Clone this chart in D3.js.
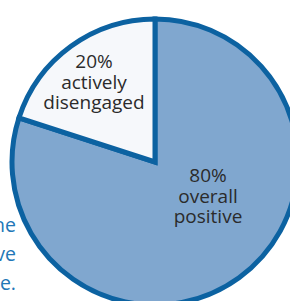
<!DOCTYPE html>
<html><head><meta charset="utf-8">
<script src="https://cdn.jsdelivr.net/npm/d3@7"></script>
<style>html,body{margin:0;padding:0;background:#fff;overflow:hidden}</style>
</head><body>
<svg id="c" width="290" height="301"></svg>
<script>
const categories = ["overall positive", "actively disengaged"];
const values = [80, 20];
const labelLines = [["80%", "overall", "positive"], ["20%", "actively", "disengaged"]];
const sideText = ["he", "ve", "e."];

const svg = d3.select("#c");
const cx = 155, cy = 162, R = 143;
const fills = d3.scaleOrdinal().domain(categories).range(["#80a7cf", "#f6f8fb"]);

// clipped side text on the left
svg.append("g").selectAll("text").data(sideText).join("text")
  .attr("x", 16).attr("y", (d, i) => 232 + i * 29)
  .attr("text-anchor", "end")
  .attr("font-family", "Open Sans, sans-serif").attr("font-size", 19.5)
  .attr("fill", "#2277b7").text(d => d);

const pie = d3.pie().sort(null).value(d => d);
const arc = d3.arc().innerRadius(0).outerRadius(R);
const g = svg.append("g").attr("transform", `translate(${cx},${cy})`);
g.selectAll("path").data(pie(values)).join("path")
  .attr("d", arc)
  .attr("fill", (d, i) => fills(categories[i]))
  .attr("stroke", "#0c62a1").attr("stroke-width", 5).attr("stroke-linejoin", "miter");

const offsets = [[53, 20], [-61, -94]];
const lg = g.selectAll("g.lab").data(labelLines).join("g").attr("class", "lab")
  .attr("transform", (d, i) => `translate(${offsets[i][0]},${offsets[i][1]})`);
lg.selectAll("text").data(d => d).join("text")
  .attr("x", 0).attr("y", (d, i) => i * 20.5)
  .attr("text-anchor", "middle")
  .attr("font-family", "Open Sans, sans-serif").attr("font-size", 19)
  .attr("fill", "#2b2b2b").text(d => d);
</script>
</body></html>
